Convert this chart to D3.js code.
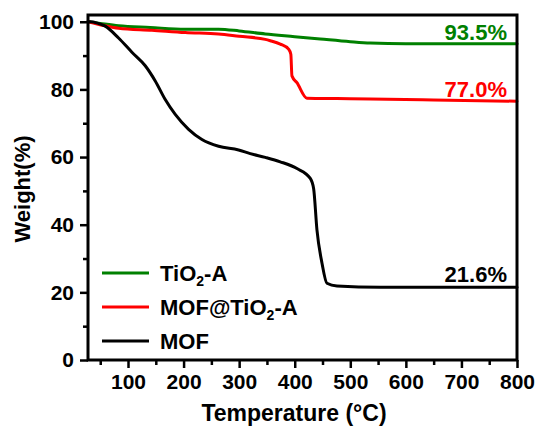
<!DOCTYPE html>
<html><head><meta charset="utf-8">
<script src="https://cdn.jsdelivr.net/npm/d3@7"></script>
<style>body{margin:0;background:#fff}svg{display:block}text{font-family:Arial,"Liberation Sans",sans-serif;font-weight:bold}</style>
</head><body>
<script>
// Data
const tempBlack = [28,32,45,59,83,107,131,149,167,185,209,233,263,299,320,347,374,404,428,434,440,449,458,476,554,700,800];
const wBlack    = [100,100,99.6,98.7,95.2,91,87,82.5,77,72.6,68.2,65.2,63.2,62.1,61,59.9,58.6,56.6,53.7,50.7,38.5,28.7,22.7,21.9,21.5,21.5,21.5];
const tempGreen = [28,50,83,140,203,263,300,347,400,446,500,536,600,800];
const wGreen    = [100,99.5,98.8,98.3,97.8,97.8,97.3,96.4,95.6,94.9,94.1,93.7,93.5,93.5];
const tempRed   = [28,59,83,143,203,263,300,347,356,374,389,393,395,404,422,476,536,650,800];
const wRed      = [100,98.8,98.1,97.5,96.8,96.4,95.7,94.8,94.4,93.4,91.9,90.4,84,82,77.4,77.3,77.2,76.9,76.5];
const xMajor = [100,200,300,400,500,600,700,800];
const xMinor = [50,150,250,350,450,550,650,750];
const yMajor = [0,20,40,60,80,100];
const yMinor = [10,30,50,70,90];
const seriesNames = ["TiO2-A","MOF@TiO2-A","MOF"];
const seriesColors = ["#008000","#ff0000","#000000"];
const endLabels = ["93.5%","77.0%","21.6%"];

const W = 537, H = 427;
const svg = d3.select("body").append("svg").attr("width",W).attr("height",H);
const x = d3.scaleLinear().domain([28,800]).range([88,517]);
const y = d3.scaleLinear().domain([0,102]).range([360,15]);

const line = d3.line().x(d=>x(d[0])).y(d=>y(d[1])).curve(d3.curveMonotoneX);
const series = [
  {t:tempGreen,w:wGreen},
  {t:tempRed,w:wRed},
  {t:tempBlack,w:wBlack}
];
series.forEach((s,i)=>{
  svg.append("path").datum(s.t.map((t,j)=>[t,s.w[j]]))
    .attr("d",line).attr("fill","none").attr("stroke",seriesColors[i])
    .attr("stroke-width",3).attr("stroke-linejoin","round").attr("stroke-linecap","round");
});

// axes
const xAxis = d3.axisBottom(x).tickValues(xMajor).tickSize(8).tickPadding(6).tickFormat(d3.format("d"));
const xAxisMinor = d3.axisBottom(x).tickValues(xMinor).tickSize(5).tickFormat("");
const yAxis = d3.axisLeft(y).tickValues(yMajor).tickSize(8).tickPadding(6).tickFormat(d3.format("d"));
const yAxisMinor = d3.axisLeft(y).tickValues(yMinor).tickSize(5).tickFormat("");
function styleAxis(g){
  g.select(".domain").remove();
  g.selectAll("line").attr("stroke","#000").attr("stroke-width",2.5);
  g.selectAll("text").attr("fill","#000").style("font-size","21px").style("font-weight","bold");
}
svg.append("g").attr("transform","translate(0,360)").call(xAxisMinor).call(styleAxis);
svg.append("g").attr("transform","translate(0,360)").call(xAxis).call(styleAxis);
svg.append("g").attr("transform","translate(88,0)").call(yAxisMinor).call(styleAxis);
svg.append("g").attr("transform","translate(88,0)").call(yAxis).call(styleAxis);

// frame
svg.append("rect").attr("x",88).attr("y",15).attr("width",517-88).attr("height",360-15)
  .attr("fill","none").attr("stroke","#000").attr("stroke-width",3);

// titles
svg.append("text").attr("x",294).attr("y",421).attr("text-anchor","middle")
  .style("font-size","23px").text("Temperature (°C)");
svg.append("text").attr("transform","translate(30,189) rotate(-90)").attr("text-anchor","middle")
  .style("font-size","22px").text("Weight(%)");

// end labels
endLabels.forEach((t,i)=>{
  const yy = [40,97,282][i];
  svg.append("text").attr("x",507).attr("y",yy).attr("text-anchor","end")
    .attr("fill",seriesColors[i]).style("font-size","22px").text(t);
});

// legend
const legY = [273,307,341];
seriesNames.forEach((n,i)=>{
  svg.append("line").attr("x1",102).attr("x2",149).attr("y1",legY[i]).attr("y2",legY[i])
    .attr("stroke",seriesColors[i]).attr("stroke-width",3);
  const tx = svg.append("text").attr("x",160).attr("y",legY[i]+8).style("font-size","22px");
  const m = n.match(/^(.*TiO)2(.*)$/);
  if(m){
    tx.append("tspan").text(m[1]);
    tx.append("tspan").attr("dy",5).style("font-size","14px").text("2");
    tx.append("tspan").attr("dy",-5).text(m[2]);
  } else tx.text(n);
});
</script>
</body></html>
